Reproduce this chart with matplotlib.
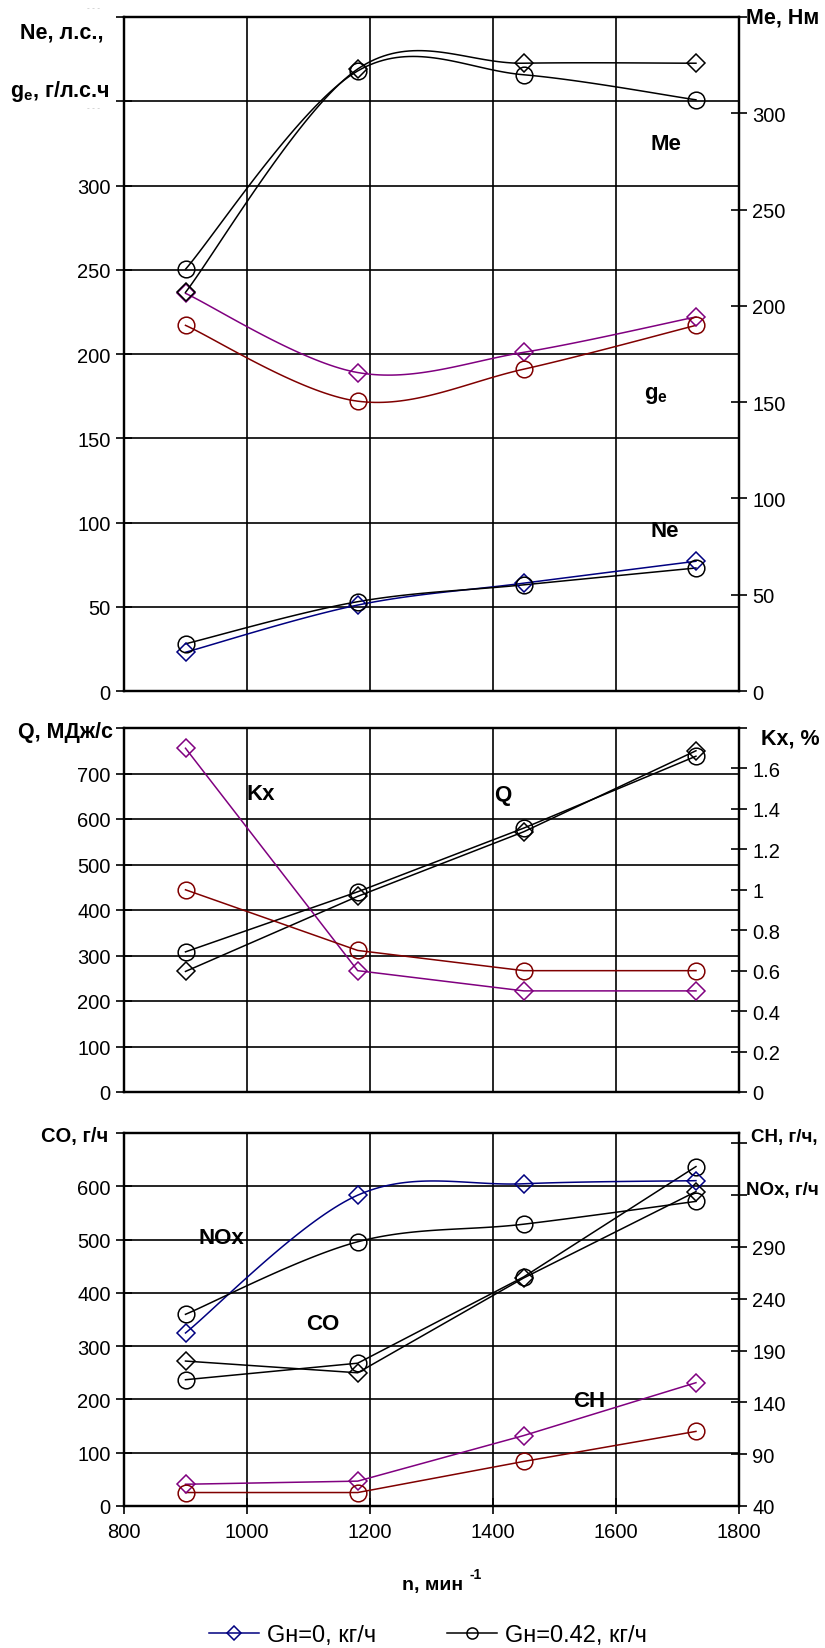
import numpy as np
import matplotlib
matplotlib.use('Agg')
from matplotlib import pyplot as plt
from matplotlib.lines import Line2D
from matplotlib.ticker import FuncFormatter

plt.rcParams['font.family'] = ['Liberation Sans', 'DejaVu Sans']
plt.rcParams['mathtext.fontset'] = 'custom'
plt.rcParams['mathtext.rm'] = 'Liberation Sans:bold'
plt.rcParams['mathtext.it'] = 'Liberation Sans:bold'
plt.rcParams['mathtext.bf'] = 'Liberation Sans:bold'
plt.rcParams['mathtext.default'] = 'rm'

# частота вращения, мин-1
n = [900, 1180, 1450, 1730]

# верхний график: Me (правая ось), ge и Ne (левая ось)
me_0 = [207, 323, 326, 326]
me_042 = [219, 322, 320, 307]
ge_0 = [236, 189, 201, 222]
ge_042 = [217, 172, 191, 217]
ne_0 = [23, 51, 64, 77]
ne_042 = [28, 53, 63, 73]

# средний график: Q (левая ось), Kx (правая ось)
q_0 = [265, 430, 572, 750]
q_042 = [308, 440, 580, 738]
kx_0 = [1.70, 0.60, 0.50, 0.50]
kx_042 = [1.00, 0.70, 0.60, 0.60]

# нижний график: CO (левая ось), CH и NOx (правая ось)
co_0 = [272, 250, 428, 590]
co_042 = [237, 268, 430, 637]
nox_0 = [207, 340, 351, 354]
nox_042 = [225, 295, 312, 334]
ch_0 = [61, 64, 108, 159]
ch_042 = [53, 53, 83, 112]

NAVY = '#000080'
PURPLE = '#800080'
MAROON = '#800000'
BLACK = 'black'

W, H = 825, 1649
fig = plt.figure(figsize=(W / 100, H / 100), dpi=100)


def rect(top, bottom):
    return [124 / W, 1 - bottom / H, (739 - 124) / W, (bottom - top) / H]


def fx(x):
    return x / W


def fy(y):
    return 1 - y / H


def smooth(xs, ys, k=40):
    # сглаживание как в Excel (кривые Безье по Катмулл-Рому)
    p = np.column_stack([xs, ys]).astype(float)
    out = [p[0]]
    t = np.linspace(0, 1, k)[1:, None]
    for i in range(len(p) - 1):
        p0 = p[i - 1] if i > 0 else p[i]
        p1, p2 = p[i], p[i + 1]
        p3 = p[i + 2] if i + 2 < len(p) else p[i + 1]
        c1 = p1 + (p2 - p0) / 6
        c2 = p2 - (p3 - p1) / 6
        seg = (1 - t) ** 3 * p1 + 3 * (1 - t) ** 2 * t * c1 + 3 * (1 - t) * t ** 2 * c2 + t ** 3 * p2
        out.extend(seg)
    out = np.array(out)
    return out[:, 0], out[:, 1]


def series(ax, ys, color, marker, smoothed=False):
    if smoothed:
        sx, sy = smooth(n, ys)
        ax.plot(sx, sy, color=color, lw=1.1, zorder=3)
    else:
        ax.plot(n, ys, color=color, lw=1.1, zorder=3)
    ms = 9.5 if marker == 'D' else 12
    ax.plot(n, ys, marker=marker, ms=ms, mfc='none', mec=color, mew=1.1, ls='none', zorder=4)


def style(ax, twin, ylim, yticks, y2lim, y2ticks, hide_left=(), hide_right=(), bottom=False):
    ax.set_xlim(800, 1800)
    ax.set_xticks(range(800, 1801, 200))
    ax.set_ylim(*ylim)
    ax.set_yticks(yticks)
    ax.grid(True, color='black', lw=1.2)
    ax.set_axisbelow(True)
    fmt = FuncFormatter(lambda v, p: '' if any(abs(v - h) < 1e-9 for h in hide_left) else '%g' % v)
    ax.yaxis.set_major_formatter(fmt)
    ax.tick_params(axis='y', direction='inout', length=11, width=1.2, labelsize=14.5, pad=4)
    if bottom:
        ax.tick_params(axis='x', direction='inout', length=11, width=1.2, labelsize=14.5, pad=6)
    else:
        ax.tick_params(axis='x', length=0, labelbottom=False)
    for s in ax.spines.values():
        s.set_linewidth(1.6)
    twin.set_ylim(*y2lim)
    twin.set_yticks(y2ticks)
    fmt2 = FuncFormatter(lambda v, p: '' if any(abs(v - h) < 1e-9 for h in hide_right) else '%g' % v)
    twin.yaxis.set_major_formatter(fmt2)
    twin.tick_params(axis='y', direction='inout', length=11, width=1.2, labelsize=14.5, pad=4)
    for s in twin.spines.values():
        s.set_linewidth(1.6)


# ---- верхний график
ax1 = fig.add_axes(rect(18, 692))
ax1r = ax1.twinx()
style(ax1, ax1r, (0, 400), range(0, 401, 50), (0, 350), range(0, 351, 50),
      hide_left=(350, 400), hide_right=(350,))
series(ax1r, me_0, BLACK, 'D', True)
series(ax1r, me_042, BLACK, 'o', True)
series(ax1, ge_0, PURPLE, 'D', True)
series(ax1, ge_042, MAROON, 'o', True)
series(ax1, ne_0, NAVY, 'D', True)
series(ax1, ne_042, BLACK, 'o', True)

# ---- средний график
ax2 = fig.add_axes(rect(729, 1093))
ax2r = ax2.twinx()
style(ax2, ax2r, (0, 800), range(0, 801, 100), (0, 1.8), np.arange(0, 1.81, 0.2),
      hide_left=(800,), hide_right=(1.8,))
series(ax2r, kx_0, PURPLE, 'D')
series(ax2r, kx_042, MAROON, 'o')
series(ax2, q_0, BLACK, 'D')
series(ax2, q_042, BLACK, 'o')

# ---- нижний график
ax3 = fig.add_axes(rect(1134, 1507))
ax3r = ax3.twinx()
style(ax3, ax3r, (0, 700), range(0, 701, 100), (40, 400), range(40, 391, 50),
      hide_left=(700,), hide_right=(340, 390), bottom=True)
series(ax3r, nox_0, NAVY, 'D', True)
series(ax3r, nox_042, BLACK, 'o', True)
series(ax3, co_0, BLACK, 'D')
series(ax3, co_042, BLACK, 'o')
series(ax3r, ch_0, PURPLE, 'D')
series(ax3r, ch_042, MAROON, 'o')

# подписи осей
bold = dict(fontsize=15.5, fontweight='bold')
fig.text(fx(104), fy(33), 'Ne, л.с.,', ha='right', va='center', **bold)
fig.text(fx(110), fy(91), r'g$_{e}$, г/л.с.ч', ha='right', va='center', **bold)
fig.text(fx(100), fy(9), '- - -', ha='right', va='center', fontsize=6, color='#bbbbbb')
fig.text(fx(100), fy(109), '- - -', ha='right', va='center', fontsize=6, color='#bbbbbb')
fig.text(fx(746), fy(18), 'Me, Нм', ha='left', va='center', **bold)
fig.text(fx(113), fy(733), 'Q, МДж/с', ha='right', va='center', **bold)
fig.text(fx(761), fy(739), 'Kx, %', ha='left', va='center', **bold)
fig.text(fx(108), fy(1137), 'CO, г/ч', ha='right', va='center', fontsize=14.5, fontweight='bold')
fig.text(fx(751), fy(1138), 'CH, г/ч,', ha='left', va='center', fontsize=13.5, fontweight='bold')
fig.text(fx(746), fy(1191), 'NOx, г/ч', ha='left', va='center', fontsize=13.5, fontweight='bold')

# подписи кривых
lbl = dict(fontsize=16, fontweight='bold')
fig.text(fx(666), fy(144), 'Me', ha='center', va='center', **lbl)
fig.text(fx(656), fy(395), r'g$_{e}$', ha='center', va='center', **lbl)
fig.text(fx(665), fy(532), 'Ne', ha='center', va='center', **lbl)
fig.text(fx(261), fy(795), 'Kx', ha='center', va='center', **lbl)
fig.text(fx(503), fy(795), 'Q', ha='center', va='center', **lbl)
fig.text(fx(221), fy(1239), 'NOx', ha='center', va='center', **lbl)
fig.text(fx(323), fy(1324), 'CO', ha='center', va='center', **lbl)
fig.text(fx(589), fy(1402), 'CH', ha='center', va='center', **lbl)

# подпись оси абсцисс со степенью
fig.text(fx(463), fy(1586), 'n, мин', ha='right', va='center', fontsize=14, fontweight='bold')
fig.text(fx(469), fy(1575), '-1', ha='left', va='center', fontsize=10, fontweight='bold')

handles = [
    Line2D([], [], color=NAVY, lw=1.1, marker='D', ms=7, mfc='none', mew=1.1),
    Line2D([], [], color=BLACK, lw=1.1, marker='o', ms=8, mfc='none', mew=1.1),
]
fig.legend(handles, ['Gн=0, кг/ч', 'Gн=0.42, кг/ч'], loc='center', ncol=2,
           bbox_to_anchor=(fx(428), fy(1636)), frameon=False, fontsize=17,
           handlelength=2.1, columnspacing=3.0, handletextpad=0.35)

fig.savefig('out.png', dpi=100)
